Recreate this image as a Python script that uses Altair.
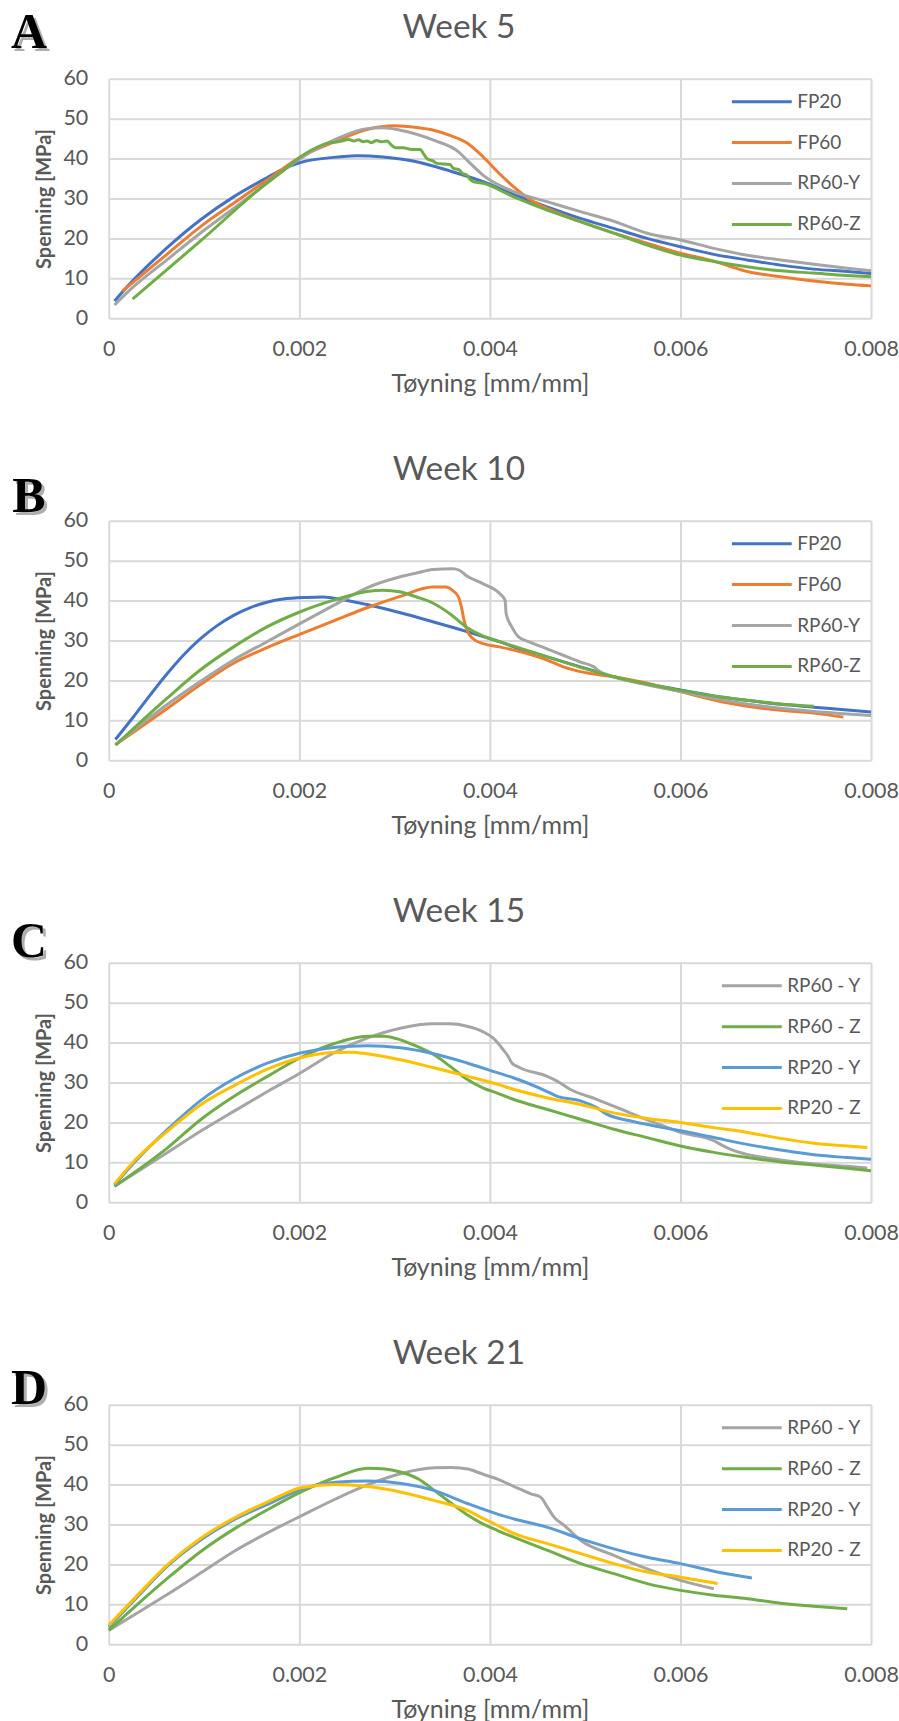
import altair as alt
import pandas as pd

# ---------------- axis ticks / labels ----------------
X_TICKS = [0, 0.002, 0.004, 0.006, 0.008]
Y_TICKS = [0, 10, 20, 30, 40, 50, 60]
X_TITLE = "Tøyning [mm/mm]"
Y_TITLE = "Spenning [MPa]"

TITLES = ["Week 5", "Week 10", "Week 15", "Week 21"]
LETTERS = ["A", "B", "C", "D"]
LETTER_DY = [-46, -24, -21, -16]

SERIES_AB = ["FP20", "FP60", "RP60-Y", "RP60-Z"]
COLORS_AB = ["#4472C4", "#ED7D31", "#A5A5A5", "#70AD47"]
SERIES_CD = ["RP60 - Y", "RP60 - Z", "RP20 - Y", "RP20 - Z"]
COLORS_CD = ["#A5A5A5", "#70AD47", "#5B9BD5", "#FFC000"]

# ---------------- data (strain in 1e-3 mm/mm, stress in MPa) ----------------
# Week 5
A_FP20_x = [0.06, 0.26, 0.61, 0.96, 1.31, 1.66, 1.84, 2.01, 2.36, 2.60, 2.88, 3.23, 3.58, 3.93, 4.25, 4.60, 4.95, 5.30, 5.65, 6.00, 6.35, 6.70, 7.05, 7.40, 7.75, 8.00]
A_FP20_y = [4.3, 9.6, 17.6, 24.6, 30.4, 35.2, 37.5, 39.0, 40.3, 40.7, 40.4, 39.2, 36.9, 34.2, 31.0, 27.9, 25.0, 22.5, 20.0, 17.9, 16.0, 14.6, 13.3, 12.3, 11.7, 11.2]
A_FP60_x = [0.14, 0.61, 0.96, 1.31, 1.66, 2.01, 2.36, 2.71, 2.99, 3.23, 3.41, 3.58, 3.76, 3.93, 4.08, 4.25, 4.43, 4.60, 4.95, 5.30, 5.65, 6.00, 6.35, 6.53, 6.70, 7.05, 7.40, 7.75, 8.00]
A_FP60_y = [6.7, 16.0, 22.9, 28.8, 34.6, 40.4, 44.1, 47.3, 48.2, 47.8, 47.1, 45.8, 43.9, 40.4, 36.7, 32.9, 29.6, 27.5, 24.2, 21.3, 18.8, 16.3, 14.3, 12.9, 11.7, 10.4, 9.3, 8.5, 8.1]
A_RP60Y_x = [0.06, 0.26, 0.61, 0.96, 1.31, 1.66, 2.01, 2.36, 2.71, 2.88, 3.06, 3.41, 3.67, 3.76, 3.93, 4.25, 4.60, 4.95, 5.30, 5.65, 6.00, 6.35, 6.70, 7.05, 7.40, 7.75, 8.00]
A_RP60Y_y = [3.3, 7.9, 14.6, 21.3, 27.5, 33.8, 40.0, 44.6, 47.5, 47.7, 47.1, 44.6, 41.7, 39.6, 35.8, 31.7, 29.2, 26.7, 24.3, 21.3, 19.6, 17.5, 15.8, 14.6, 13.5, 12.5, 11.9]
A_RP60Z_x = [0.25, 0.96, 1.66, 1.84, 2.01, 2.19, 2.29, 2.43, 2.52, 2.57, 2.62, 2.67, 2.71, 2.76, 2.81, 2.87, 2.92, 2.97, 3.01, 3.09, 3.18, 3.27, 3.30, 3.34, 3.41, 3.44, 3.58, 3.62, 3.67, 3.71, 3.76, 3.79, 3.83, 3.93, 4.25, 4.60, 4.95, 5.30, 5.65, 6.00, 6.35, 6.70, 7.05, 7.40, 7.75, 8.00]
A_RP60Z_y = [4.8, 19.3, 33.9, 37.2, 40.4, 42.9, 43.8, 44.3, 44.8, 44.4, 44.7, 44.2, 44.4, 44.0, 44.5, 44.2, 44.4, 43.3, 42.7, 42.7, 42.3, 42.3, 41.3, 40.0, 39.3, 38.8, 38.5, 37.5, 37.3, 36.3, 35.8, 34.8, 34.2, 33.8, 30.4, 27.1, 24.2, 21.3, 18.3, 15.8, 14.2, 12.9, 11.9, 11.3, 10.7, 10.4]

# Week 10
B_FP20_x = [0.07, 0.26, 0.44, 0.61, 0.79, 0.96, 1.13, 1.31, 1.48, 1.66, 1.83, 2.08, 2.25, 2.36, 2.71, 3.05, 3.40, 3.75, 4.10, 4.25, 4.60, 4.95, 5.12, 5.30, 5.65, 6.00, 6.35, 6.70, 7.05, 7.40, 7.75, 8.00]
B_FP20_y = [5.2, 10.9, 16.5, 21.6, 26.5, 30.4, 33.6, 36.3, 38.2, 39.6, 40.4, 40.8, 40.9, 40.6, 39.0, 37.0, 34.7, 32.3, 29.7, 28.4, 25.9, 23.4, 22.2, 20.9, 19.1, 17.6, 16.1, 15.0, 14.0, 13.3, 12.6, 12.1]
B_FP60_x = [0.07, 0.61, 0.96, 1.31, 1.66, 2.01, 2.36, 2.71, 3.05, 3.40, 3.54, 3.61, 3.67, 3.70, 3.73, 3.77, 3.82, 3.93, 4.10, 4.25, 4.60, 4.77, 4.95, 5.30, 5.65, 6.00, 6.35, 6.70, 7.05, 7.40, 7.71]
B_FP60_y = [3.9, 12.9, 18.9, 24.3, 28.2, 31.6, 34.9, 38.2, 41.0, 43.4, 43.4, 42.5, 40.9, 38.5, 34.9, 32.0, 30.5, 29.2, 28.4, 27.6, 25.1, 23.4, 22.2, 20.9, 19.3, 17.2, 15.1, 13.5, 12.5, 11.8, 10.8]
B_RP60Y_x = [0.07, 0.61, 0.96, 1.31, 1.66, 2.01, 2.36, 2.71, 3.05, 3.23, 3.40, 3.61, 3.68, 3.75, 3.93, 4.105, 4.16, 4.17, 4.23, 4.30, 4.42, 4.60, 4.77, 4.95, 5.09, 5.14, 5.30, 5.65, 6.00, 6.35, 6.70, 7.05, 7.40, 7.75, 8.00]
B_RP60Y_y = [3.9, 13.9, 19.7, 25.1, 29.7, 34.3, 38.8, 43.2, 45.9, 46.9, 47.8, 48.0, 47.6, 46.3, 44.2, 41.7, 40.0, 36.7, 33.4, 30.9, 29.6, 27.9, 26.3, 24.6, 23.4, 22.4, 20.9, 18.9, 17.2, 15.5, 14.1, 13.0, 12.2, 11.6, 11.2]
B_RP60Z_x = [0.07, 0.61, 0.96, 1.31, 1.66, 2.01, 2.36, 2.71, 2.88, 3.05, 3.23, 3.40, 3.58, 3.75, 3.93, 4.10, 4.25, 4.60, 4.95, 5.30, 5.65, 6.00, 6.35, 6.70, 7.05, 7.40]
B_RP60Z_y = [3.75, 15.5, 22.6, 28.4, 33.4, 37.2, 40.1, 42.3, 42.6, 42.2, 40.9, 39.4, 36.7, 33.4, 31.1, 29.7, 28.6, 25.9, 23.3, 20.9, 19.1, 17.5, 16.1, 15.0, 14.1, 13.5]

# Week 15
C_RP60Y_x = [0.06, 0.62, 0.97, 1.32, 1.67, 2.01, 2.36, 2.71, 3.06, 3.41, 3.58, 3.76, 3.93, 4.035, 4.14, 4.19, 4.23, 4.315, 4.595, 4.70, 4.84, 5.12, 5.47, 5.82, 6.00, 6.35, 6.42, 6.52, 6.70, 7.05, 7.40, 7.75, 7.96]
C_RP60Y_y = [4.0, 12.5, 17.9, 22.9, 27.8, 32.4, 37.4, 41.1, 43.6, 44.7, 44.7, 44.1, 42.7, 41.1, 38.2, 36.6, 34.9, 33.7, 31.6, 30.4, 28.3, 25.8, 22.4, 19.1, 17.5, 15.4, 14.5, 13.3, 12.0, 10.6, 9.6, 9.0, 8.6]
C_RP60Z_x = [0.06, 0.62, 0.97, 1.32, 1.67, 2.01, 2.36, 2.71, 2.89, 3.06, 3.23, 3.41, 3.58, 3.76, 3.93, 4.07, 4.245, 4.595, 4.95, 5.30, 5.65, 6.00, 6.35, 6.70, 7.05, 7.40, 7.75, 8.00]
C_RP60Z_y = [4.0, 13.7, 20.8, 26.6, 31.6, 36.2, 39.7, 41.6, 41.6, 40.7, 39.1, 37.0, 34.1, 30.8, 28.6, 27.4, 25.8, 23.3, 20.8, 18.3, 16.2, 14.1, 12.5, 11.2, 10.1, 9.3, 8.5, 7.9]
C_RP20Y_x = [0.06, 0.27, 0.62, 0.97, 1.32, 1.67, 2.01, 2.36, 2.54, 2.71, 3.06, 3.41, 3.76, 4.10, 4.245, 4.595, 4.70, 4.95, 5.12, 5.23, 5.47, 5.82, 6.00, 6.35, 6.70, 7.05, 7.40, 7.75, 8.00]
C_RP20Y_y = [4.3, 10.0, 18.3, 25.6, 31.0, 34.9, 37.4, 38.8, 39.1, 39.2, 38.7, 37.2, 34.9, 32.3, 31.2, 27.8, 26.6, 25.4, 23.7, 22.0, 20.4, 18.7, 17.9, 16.2, 14.5, 13.1, 11.9, 11.2, 10.8]
C_RP20Z_x = [0.06, 0.27, 0.62, 0.97, 1.32, 1.67, 2.01, 2.36, 2.54, 2.71, 3.06, 3.41, 3.76, 4.10, 4.245, 4.595, 4.95, 5.30, 5.65, 6.00, 6.35, 6.70, 7.05, 7.40, 7.75, 7.96]
C_RP20Z_y = [4.6, 10.4, 17.9, 24.5, 29.3, 33.4, 36.2, 37.5, 37.6, 37.2, 35.7, 33.7, 31.6, 29.4, 28.3, 26.2, 24.5, 22.4, 21.0, 20.0, 18.7, 17.5, 16.0, 14.8, 14.1, 13.7]

# Week 21
D_RP60Y_x = [0.0, 0.29, 0.63, 0.98, 1.33, 1.68, 2.03, 2.38, 2.72, 3.07, 3.42, 3.60, 3.77, 3.94, 4.08, 4.255, 4.43, 4.535, 4.605, 4.675, 4.78, 4.955, 5.30, 5.65, 6.00, 6.35]
D_RP60Y_y = [3.5, 7.7, 12.7, 18.1, 23.5, 28.1, 32.3, 36.4, 40.0, 42.8, 44.2, 44.3, 43.9, 42.5, 41.4, 39.5, 37.7, 36.8, 34.3, 31.8, 29.8, 26.0, 22.3, 18.9, 16.0, 13.9]
D_RP60Z_x = [0.0, 0.29, 0.63, 0.98, 1.33, 1.68, 2.03, 2.38, 2.72, 2.90, 3.07, 3.25, 3.42, 3.60, 3.77, 3.905, 4.08, 4.255, 4.605, 4.955, 5.30, 5.65, 6.00, 6.35, 6.70, 7.05, 7.40, 7.75]
D_RP60Z_y = [3.5, 9.75, 16.8, 23.5, 29.1, 33.9, 38.3, 41.8, 44.1, 43.9, 43.1, 41.4, 38.5, 35.2, 32.3, 30.4, 28.5, 26.8, 23.5, 20.2, 17.7, 15.2, 13.5, 12.3, 11.4, 10.3, 9.5, 8.9]
D_RP20Y_x = [0.0, 0.29, 0.63, 0.98, 1.33, 1.68, 2.03, 2.38, 2.72, 3.07, 3.42, 3.77, 4.12, 4.255, 4.605, 4.955, 5.30, 5.65, 6.00, 6.35, 6.75]
D_RP20Y_y = [4.3, 11.6, 19.9, 26.4, 31.4, 35.2, 38.9, 40.6, 40.9, 40.3, 38.5, 35.2, 32.3, 31.4, 29.3, 26.4, 23.9, 21.8, 20.2, 18.3, 16.6]
D_RP20Z_x = [0.0, 0.29, 0.63, 0.98, 1.33, 1.68, 2.03, 2.38, 2.72, 3.07, 3.42, 3.77, 3.905, 4.045, 4.255, 4.605, 4.955, 5.30, 5.65, 6.00, 6.39]
D_RP20Z_y = [4.75, 12.0, 20.2, 26.8, 31.8, 35.8, 39.3, 40.0, 39.5, 38.1, 36.0, 33.5, 31.8, 30.2, 27.7, 25.2, 22.7, 20.2, 18.1, 16.8, 15.2]

PANEL_DATA = [
    [A_FP20_x, A_FP20_y, A_FP60_x, A_FP60_y, A_RP60Y_x, A_RP60Y_y, A_RP60Z_x, A_RP60Z_y],
    [B_FP20_x, B_FP20_y, B_FP60_x, B_FP60_y, B_RP60Y_x, B_RP60Y_y, B_RP60Z_x, B_RP60Z_y],
    [C_RP60Y_x, C_RP60Y_y, C_RP60Z_x, C_RP60Z_y, C_RP20Y_x, C_RP20Y_y, C_RP20Z_x, C_RP20Z_y],
    [D_RP60Y_x, D_RP60Y_y, D_RP60Z_x, D_RP60Z_y, D_RP20Y_x, D_RP20Y_y, D_RP20Z_x, D_RP20Z_y],
]
PANEL_SERIES = [SERIES_AB, SERIES_AB, SERIES_CD, SERIES_CD]
PANEL_COLORS = [COLORS_AB, COLORS_AB, COLORS_CD, COLORS_CD]

FONT = "Lato"
GREY_TEXT = "#595959"
W, H = 764, 240
TITLE_X = W / 2 - 31
TITLE_Y = -51


def build_panel(i):
    names = PANEL_SERIES[i]
    arrs = PANEL_DATA[i]
    rows = []
    for k, name in enumerate(names):
        xs, ys = arrs[2 * k], arrs[2 * k + 1]
        for xv, yv in zip(xs, ys):
            rows.append({"series": name, "order": k, "strain": xv / 1000.0, "stress": yv})
    df = pd.DataFrame(rows)

    lines = alt.Chart(df).mark_line(strokeWidth=3, interpolate="monotone").encode(
        x=alt.X("strain:Q",
                scale=alt.Scale(domain=[0, 0.008], nice=False, zero=False),
                axis=alt.Axis(values=X_TICKS, format="~g", title=X_TITLE)),
        y=alt.Y("stress:Q",
                scale=alt.Scale(domain=[0, 60], nice=False),
                axis=alt.Axis(values=Y_TICKS, title=Y_TITLE)),
        color=alt.Color("series:N",
                        scale=alt.Scale(domain=names, range=PANEL_COLORS[i]),
                        sort=names,
                        legend=alt.Legend(title=None, orient="top-right", offset=10,
                                          symbolType="stroke", symbolSize=3600,
                                          symbolStrokeWidth=3, clipHeight=26,
                                          rowPadding=15, labelFontSize=19,
                                          labelFont=FONT, labelColor=GREY_TEXT,
                                          labelOffset=4, padding=0)),
        detail="order:O",
    )

    ldf = pd.DataFrame({"letter": [LETTERS[i]], "title": [TITLES[i]]})
    shadow = alt.Chart(ldf).mark_text(
        font="Liberation Serif", fontSize=50, fontWeight="bold", color="#9a9a9a",
        align="center", baseline="middle", dx=3, dy=3, opacity=0.8,
    ).encode(text="letter:N", x=alt.value(-80), y=alt.value(LETTER_DY[i]))
    letter = alt.Chart(ldf).mark_text(
        font="Liberation Serif", fontSize=50, fontWeight="bold", color="#000000",
        align="center", baseline="middle",
    ).encode(text="letter:N", x=alt.value(-80), y=alt.value(LETTER_DY[i]))
    title = alt.Chart(ldf).mark_text(
        font=FONT, fontSize=33.5, color=GREY_TEXT, align="center", baseline="middle",
    ).encode(text="title:N", x=alt.value(TITLE_X), y=alt.value(TITLE_Y))

    return alt.layer(lines, shadow, letter, title).properties(width=W, height=H)


panels = [build_panel(i) for i in range(4)]

chart = alt.vconcat(*panels, spacing=55).resolve_scale(color="independent").properties(
    padding={"left": 10, "top": 5, "right": 0, "bottom": 0},
    background="white",
).configure_view(stroke="transparent").configure_axis(
    grid=True, gridColor="#d9d9d9", gridWidth=2, domain=False, ticks=False,
    labelFont=FONT, labelFontSize=21.5, labelColor=GREY_TEXT, labelFlush=False,
    labelOverlap=False, titleFont=FONT, titleColor=GREY_TEXT,
).configure_axisX(
    labelPadding=20, titlePadding=12, titleFontSize=25, titleFontWeight="normal",
).configure_axisY(
    labelPadding=21, titlePadding=8, titleFontSize=20, titleFontWeight="bold",
)

chart.save("out.html", embed_options={"renderer": "svg", "actions": False})
